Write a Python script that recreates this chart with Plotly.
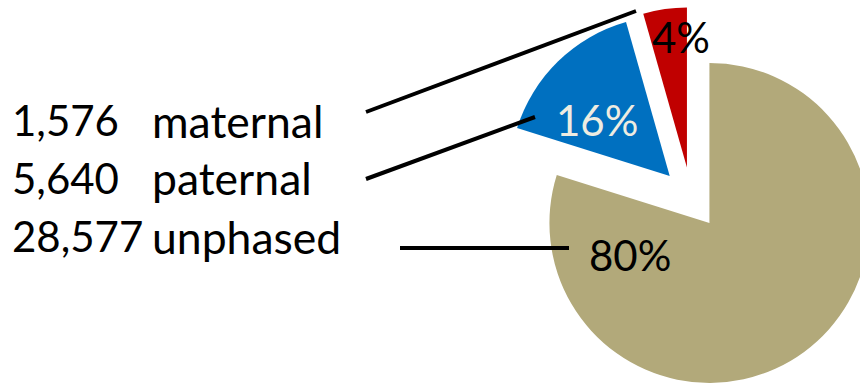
import plotly.graph_objects as go

# ---- data ----
categories = ["unphased", "paternal", "maternal"]
counts = [28577, 5640, 1576]
slice_colors = ["#B2A97A", "#0070C0", "#C00000"]
pct_text_colors = ["#000000", "#EEECE1", "#000000"]
label_rows = ["maternal", "paternal", "unphased"]  # top to bottom

# ---- layout geometry (pixels) ----
W, H = 890, 395
FONT = "Lato"
FS_PCT = 42
FS_NUM = 42
FS_LBL = 44.5

def px(x):
    return x / W

def py(y):
    return 1 - y / H

cx, cy, r, pull = 691.2, 198.1, 160.0, 0.1925
half = r * (1 + pull)

fig = go.Figure(
    go.Pie(
        values=counts,
        labels=categories,
        sort=False,
        direction="clockwise",
        rotation=0,
        pull=[pull] * len(counts),
        marker=dict(colors=slice_colors, line=dict(width=0)),
        textinfo="none",
        hoverinfo="label+value+percent",
        showlegend=False,
        domain=dict(x=[px(cx - half), px(cx + half)],
                    y=[py(cy + half), py(cy - half)]),
    )
)

total = sum(counts)
pct_pos = {"unphased": (630, 255), "paternal": (597, 120), "maternal": (681, 37)}
annotations = []
for cat, v, col in zip(categories, counts, pct_text_colors):
    x, y = pct_pos[cat]
    annotations.append(dict(
        x=px(x), y=py(y), xref="paper", yref="paper", showarrow=False,
        text=f"{round(100 * v / total)}%", xanchor="center", yanchor="middle",
        font=dict(family=FONT, size=FS_PCT, color=col)))

row_y = {"maternal": 120, "paternal": 178, "unphased": 236}
count_of = dict(zip(categories, counts))
for name in label_rows:
    y = row_y[name]
    annotations.append(dict(
        x=px(10), y=py(y), xref="paper", yref="paper", showarrow=False,
        text=f"{count_of[name]:,}", xanchor="left", yanchor="middle",
        font=dict(family=FONT, size=FS_NUM, color="#000000")))
    annotations.append(dict(
        x=px(150), y=py(y), xref="paper", yref="paper", showarrow=False,
        text=name, xanchor="left", yanchor="middle",
        font=dict(family=FONT, size=FS_LBL, color="#000000")))

leader = {
    "maternal": ((366, 112), (636, 11)),
    "paternal": ((366, 179), (535, 117)),
    "unphased": ((400, 248), (569, 248)),
}
shapes = []
for name in label_rows:
    (x0, y0), (x1, y1) = leader[name]
    shapes.append(dict(type="line", xref="paper", yref="paper",
                       x0=px(x0), y0=py(y0), x1=px(x1), y1=py(y1),
                       line=dict(color="#000000", width=4)))

fig.update_layout(
    width=W, height=H,
    margin=dict(l=0, r=0, t=0, b=0),
    paper_bgcolor="#FFFFFF", plot_bgcolor="#FFFFFF",
    annotations=annotations, shapes=shapes,
)

fig.write_html(
    "out.html",
    config={"displayModeBar": False},
    post_script="document.body.style.margin='0';"
                "document.body.style.overflow='hidden';"
                "document.documentElement.style.overflow='hidden';",
)
